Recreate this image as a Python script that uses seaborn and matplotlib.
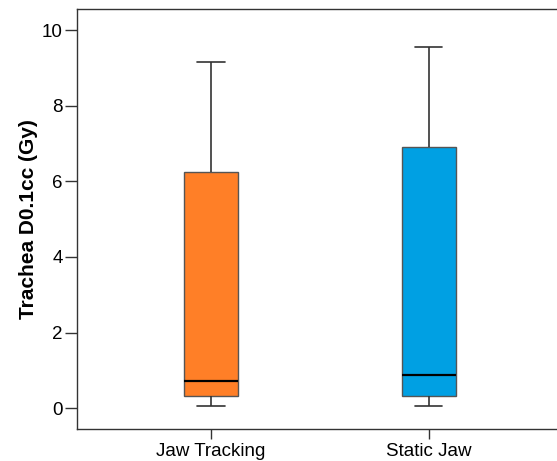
import matplotlib
matplotlib.use("Agg")
import matplotlib.pyplot as plt
import seaborn as sns
import pandas as pd

# Five-number summaries (min, Q1, median, Q3, max)
jaw_tracking = [0.07, 0.31, 0.72, 6.24, 9.15]
static_jaw = [0.07, 0.31, 0.89, 6.90, 9.56]
categories = ["Jaw Tracking", "Static Jaw"]
colors = ["#FF7F27", "#00A0E3"]
y_ticks = [0, 2, 4, 6, 8, 10]

df = pd.DataFrame({
    "group": [categories[0]] * len(jaw_tracking) + [categories[1]] * len(static_jaw),
    "value": jaw_tracking + static_jaw,
})

sns.set_style("white")
plt.rcParams["font.family"] = ["Liberation Sans", "DejaVu Sans"]
plt.rcParams["text.color"] = "black"
plt.rcParams["xtick.color"] = "black"
plt.rcParams["ytick.color"] = "black"
plt.rcParams["axes.labelcolor"] = "black"

fig = plt.figure(figsize=(5.57, 4.61), dpi=100)
ax = fig.add_axes([0.138, 0.0694, 0.8726, 0.9104])

sns.boxplot(data=df, x="group", y="value", hue="group", palette=colors,
            order=categories, hue_order=categories, legend=False,
            saturation=1, width=0.25, whis=(0, 100), showfliers=False,
            linecolor="#555555", linewidth=1.0, ax=ax,
            medianprops=dict(color="black", linewidth=1.6),
            whiskerprops=dict(color="#333333", linewidth=1.2),
            capprops=dict(color="#333333", linewidth=1.2))

ax.set_xlim(-0.615, 1.615)
ax.set_ylim(-0.55, 10.55)
ax.set_yticks(y_ticks)
ax.set_xlabel("")
ax.set_ylabel("Trachea D0.1cc (Gy)", fontsize=15, fontweight="bold", labelpad=3)
ax.tick_params(axis="y", labelsize=13.5, direction="out", length=9, pad=1,
               width=1, color="#333333", left=True)
ax.tick_params(axis="x", labelsize=13.5, direction="out", length=7, pad=3,
               width=1, color="#333333", bottom=True)
for s in ax.spines.values():
    s.set_color("#333333")
    s.set_linewidth(1.0)

fig.savefig("out.png", dpi=100)
